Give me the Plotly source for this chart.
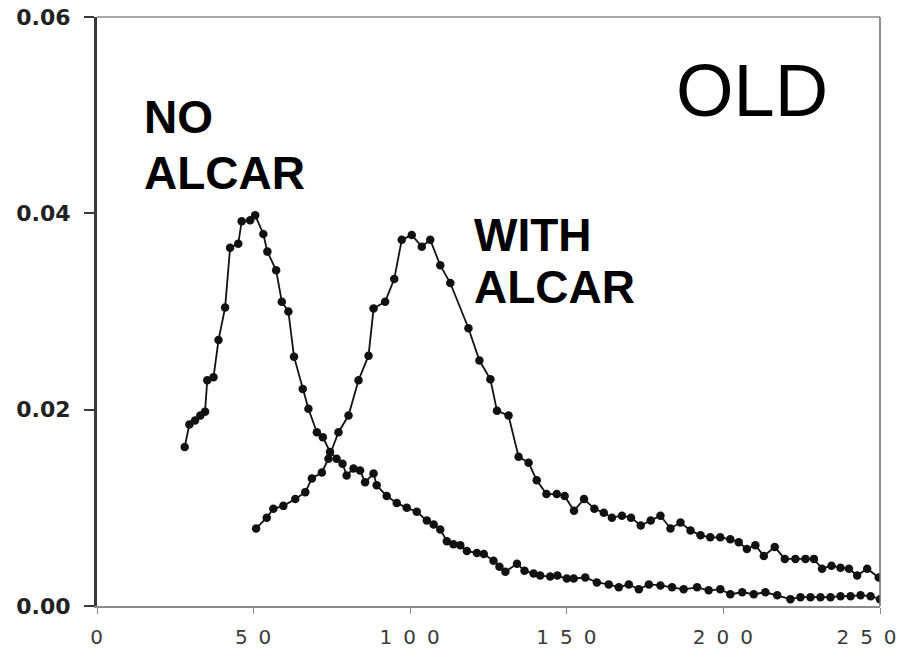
import plotly.graph_objects as go

# Time axis and fractions for the sample without ALCAR
no_alcar_x = [28, 29.5, 31.3, 33, 34.5, 35.2, 37.2, 38.8, 40.9, 42.5,
              45.1, 46.2, 48.9, 50.5, 53.1, 54.4, 57.2, 59.0, 61.1, 62.9,
              65.7, 67.5, 70.2, 72.1, 74.4, 76.5, 78.4, 79.7, 81.9, 84.0,
              85.6, 88.3, 89.3, 92.5, 95.7, 98.9, 102.1, 105.3, 107.5, 109.6,
              111.7, 113.8, 116.0, 118.1, 121.3, 123.5, 126.6, 128.5, 130.4, 134.1,
              136.5, 139.4, 141.5, 144.7, 147.0, 150.0, 152.2, 155.9, 159.6, 163.4,
              166.6, 169.8, 173.0, 176.2, 179.9, 183.6, 187.3, 191.6, 195.3, 199.0,
              202.2, 206.0, 209.7, 213.4, 217.2, 221.4, 224.6, 227.8, 231.0, 234.2,
              237.4, 240.6, 243.8, 247.0, 250.0]
no_alcar_y = [0.0162, 0.0185, 0.0189, 0.0194, 0.0198, 0.0230, 0.0233, 0.0271, 0.0304, 0.0365,
              0.0369, 0.0392, 0.0393, 0.0398, 0.0379, 0.0361, 0.0342, 0.0310, 0.0300, 0.0254,
              0.0221, 0.0201, 0.0177, 0.0172, 0.0157, 0.0150, 0.0145, 0.0133, 0.0140, 0.0138,
              0.0126, 0.0135, 0.0123, 0.0112, 0.0105, 0.0100, 0.0096, 0.0087, 0.0083, 0.0078,
              0.0066, 0.0063, 0.0062, 0.0056, 0.0054, 0.0053, 0.0046, 0.0040, 0.0035, 0.0043,
              0.0036, 0.0033, 0.0031, 0.0030, 0.0031, 0.0028, 0.0028, 0.0029, 0.0024, 0.0022,
              0.0019, 0.0022, 0.0017, 0.0022, 0.0021, 0.0019, 0.0017, 0.0019, 0.0016, 0.0017,
              0.0012, 0.0014, 0.0012, 0.0014, 0.0011, 0.0007, 0.0009, 0.0009, 0.0009, 0.0009,
              0.0010, 0.0010, 0.0011, 0.0010, 0.0007]

# Time axis and fractions for the sample with ALCAR
with_alcar_x = [50.8, 54.2, 56.3, 59.5, 63.3, 66.5, 68.6, 71.8, 73.9, 77.1,
                80.3, 83.5, 86.7, 88.3, 92.0, 94.9, 97.3, 100.5, 103.7, 106.4,
                109.6, 112.8, 118.6, 122.1, 125.6, 127.7, 131.4, 134.6, 137.8, 140.4,
                143.5, 146.8, 149.3, 152.3, 155.5, 158.8, 161.8, 164.4, 167.6, 170.5,
                173.6, 176.8, 179.9, 183.1, 186.3, 189.5, 192.7, 195.8, 199.0, 202.2,
                204.9, 207.5, 210.2, 212.9, 216.4, 219.6, 223.0, 226.2, 228.9, 231.5,
                234.5, 237.4, 240.1, 242.7, 245.9, 249.6]
with_alcar_y = [0.0079, 0.0090, 0.0099, 0.0102, 0.0109, 0.0116, 0.0130, 0.0136, 0.0150, 0.0177,
                0.0194, 0.0230, 0.0255, 0.0303, 0.0310, 0.0333, 0.0373, 0.0378, 0.0366, 0.0373,
                0.0347, 0.0329, 0.0283, 0.0250, 0.0231, 0.0199, 0.0194, 0.0152, 0.0146, 0.0128,
                0.0114, 0.0114, 0.0112, 0.0097, 0.0109, 0.0099, 0.0095, 0.0090, 0.0092, 0.0090,
                0.0082, 0.0087, 0.0092, 0.0079, 0.0085, 0.0077, 0.0072, 0.0070, 0.0070, 0.0068,
                0.0065, 0.0058, 0.0062, 0.0051, 0.0060, 0.0048, 0.0048, 0.0048, 0.0048, 0.0038,
                0.0041, 0.0039, 0.0038, 0.0031, 0.0038, 0.0029]

x_ticks = [0, 50, 100, 150, 200, 250]
y_ticks = [0.00, 0.02, 0.04, 0.06]
y_tick_text = ["0.00", "0.02", "0.04", "0.06"]

series_style = dict(
    mode="lines+markers",
    line=dict(color="#111111", width=1.8),
    marker=dict(color="#111111", size=8.5, symbol="circle"),
    showlegend=False,
    hoverinfo="x+y",
)

fig = go.Figure()
fig.add_trace(go.Scatter(x=no_alcar_x, y=no_alcar_y, name="NO ALCAR", **series_style))
fig.add_trace(go.Scatter(x=with_alcar_x, y=with_alcar_y, name="WITH ALCAR", **series_style))

fig.update_layout(
    width=910,
    height=651,
    margin=dict(l=97, r=30, t=17, b=45, autoexpand=False),
    paper_bgcolor="white",
    plot_bgcolor="white",
    font=dict(family="Liberation Sans, Arial, sans-serif", color="#111111"),
)

fig.update_xaxes(
    range=[0, 250],
    tickvals=x_ticks,
    ticktext=[str(v) for v in x_ticks],
    automargin=False,
    showgrid=False,
    zeroline=False,
    showline=True,
    linecolor="#8a8a8a",
    linewidth=1.5,
    ticks="outside",
    ticklen=6,
    tickwidth=1.2,
    tickcolor="#8a8a8a",
    ticklabelstandoff=6,
    tickfont=dict(size=20, color="#3a3a3a", family="DejaVu Sans, sans-serif"),
)
fig.update_yaxes(
    range=[0, 0.06],
    tickvals=y_ticks,
    ticktext=y_tick_text,
    automargin=False,
    showgrid=False,
    zeroline=False,
    showline=True,
    linecolor="#3a3a3a",
    linewidth=3,
    ticks="outside",
    ticklen=10,
    tickwidth=1.5,
    tickcolor="#3a3a3a",
    ticklabelstandoff=9,
    tickfont=dict(size=22, color="#222222", family="DejaVu Sans, sans-serif", weight="bold"),
)

# Top and right edges of the frame
fig.add_shape(type="line", xref="paper", yref="paper", x0=0, x1=1, y0=1, y1=1,
              line=dict(color="#8a8a8a", width=1.5))
fig.add_shape(type="line", xref="paper", yref="paper", x0=1, x1=1, y0=0, y1=1,
              line=dict(color="#6a6a6a", width=1.5))

label_font = dict(family="Liberation Sans, Arial, sans-serif", size=46, color="black", weight="bold")
labels = [
    ("NO", 0.058, 0.831, label_font),
    ("ALCAR", 0.058, 0.735, label_font),
    ("WITH", 0.479, 0.6305, label_font),
    ("ALCAR", 0.479, 0.5415, label_font),
    ("OLD", 0.737, 0.876, dict(family="Liberation Sans, Arial, sans-serif", size=74, color="black")),
]
for text, ax, ay, fnt in labels:
    fig.add_annotation(text=text, xref="paper", yref="paper", x=ax, y=ay,
                       xanchor="left", yanchor="middle", showarrow=False, font=fnt)

# Widely spaced digits on the x tick labels, re-centred under their ticks;
# the last label is nudged left so it stays inside the page
spacing_js = """
var xt = document.querySelectorAll('.xtick text');
xt.forEach(function (t, i) {
  t.style.letterSpacing = '11px';
  t.setAttribute('dx', i === xt.length - 1 ? '-8' : '5');
});
"""

fig.write_html("out.html", post_script=spacing_js)
